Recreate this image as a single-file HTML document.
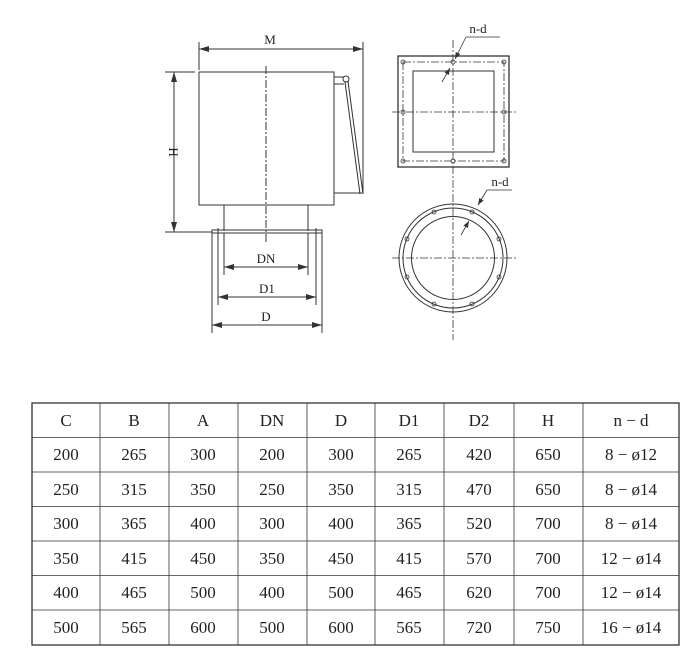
<!DOCTYPE html>
<html><head><meta charset="utf-8"><style>
html,body{margin:0;padding:0;background:#fff;}
svg{display:block;}
text{font-family:"Liberation Serif",serif;fill:#222;}
</style></head><body>
<svg width="700" height="669" viewBox="0 0 700 669" xmlns="http://www.w3.org/2000/svg">
<defs>
<marker id="a" viewBox="0 0 10 6" refX="10" refY="3" markerWidth="10" markerHeight="6" orient="auto-start-reverse" markerUnits="userSpaceOnUse"><path d="M0,0 L10,3 L0,6 z" fill="#333"/></marker>
<marker id="b" viewBox="0 0 8 6" refX="8" refY="3" markerWidth="7" markerHeight="5" orient="auto" markerUnits="userSpaceOnUse"><path d="M0,0 L8,3 L0,6 z" fill="#333"/></marker>
</defs>
<g stroke="#333" stroke-width="1" fill="none">
<rect x="199" y="72" width="135" height="133"/>
<line x1="224" y1="205" x2="224" y2="231"/>
<line x1="308" y1="205" x2="308" y2="231"/>
<rect x="212" y="230" width="110" height="3"/>
<circle cx="346" cy="79" r="3"/>
<line x1="334" y1="77" x2="344" y2="77"/>
<line x1="334" y1="84" x2="344" y2="84"/>
<line x1="345" y1="82" x2="360" y2="194"/>
<line x1="348" y1="81" x2="363" y2="194"/>
<line x1="334" y1="193" x2="362" y2="193"/>
<line x1="266" y1="66" x2="266" y2="242" stroke-dasharray="8,2,2,2"/>
<line x1="199" y1="42" x2="199" y2="70"/>
<line x1="363" y1="42" x2="363" y2="194"/>
<line x1="165" y1="72" x2="195" y2="72"/>
<line x1="165" y1="232" x2="212" y2="232"/>
<line x1="224" y1="233" x2="224" y2="275"/>
<line x1="308" y1="233" x2="308" y2="275"/>
<line x1="218" y1="228" x2="218" y2="305"/>
<line x1="316" y1="228" x2="316" y2="305"/>
<line x1="212" y1="233" x2="212" y2="333"/>
<line x1="322" y1="233" x2="322" y2="333"/>
<line x1="199" y1="49" x2="363" y2="49" marker-start="url(#a)" marker-end="url(#a)"/>
<line x1="174" y1="72" x2="174" y2="232" marker-start="url(#a)" marker-end="url(#a)"/>
<line x1="224" y1="267" x2="308" y2="267" marker-start="url(#a)" marker-end="url(#a)"/>
<line x1="218" y1="297" x2="316" y2="297" marker-start="url(#a)" marker-end="url(#a)"/>
<line x1="212" y1="325" x2="322" y2="325" marker-start="url(#a)" marker-end="url(#a)"/>
<rect x="398" y="56" width="111" height="111" stroke-width="1.3"/>
<rect x="413" y="71" width="81" height="81"/>
<rect x="403" y="62" width="101" height="99" stroke-dasharray="8,2,2,2" stroke-width="0.8"/>
<line x1="392" y1="112" x2="516" y2="112" stroke-dasharray="8,2,2,2" stroke-width="0.8"/>
<line x1="453" y1="40" x2="453" y2="340" stroke-dasharray="8,2,2,2" stroke-width="0.8"/>
<g stroke-width="0.8">
<circle cx="403" cy="62" r="2"/><circle cx="453" cy="62" r="2"/><circle cx="504" cy="62" r="2"/>
<circle cx="403" cy="112" r="2"/><circle cx="504" cy="112" r="2"/>
<circle cx="403" cy="161" r="2"/><circle cx="453" cy="161" r="2"/><circle cx="504" cy="161" r="2"/>
</g>
<polyline points="466,37 500,37" stroke-width="0.8"/>
<line x1="466" y1="37" x2="455" y2="59" stroke-width="0.8" marker-end="url(#b)"/>
<line x1="442" y1="82" x2="450" y2="68" stroke-width="0.8" marker-end="url(#b)"/>
<circle cx="453" cy="258" r="54"/>
<circle cx="453" cy="258" r="50"/>
<circle cx="453" cy="258" r="41.5"/>
<line x1="392" y1="258" x2="516" y2="258" stroke-dasharray="8,2,2,2" stroke-width="0.8"/>
<g stroke-width="0.8">
<circle cx="472" cy="212" r="2"/><circle cx="499" cy="239" r="2"/><circle cx="499" cy="277" r="2"/><circle cx="472" cy="304" r="2"/>
<circle cx="434" cy="304" r="2"/><circle cx="407" cy="277" r="2"/><circle cx="407" cy="239" r="2"/><circle cx="434" cy="212" r="2"/>
</g>
<polyline points="487,190 512,190" stroke-width="0.8"/>
<line x1="487" y1="190" x2="478" y2="205" stroke-width="0.8" marker-end="url(#b)"/>
<line x1="461" y1="235" x2="469" y2="221" stroke-width="0.8" marker-end="url(#b)"/>
<rect x="32" y="403" width="647" height="242" stroke-width="1.3"/>
<g stroke-width="0.8">
<line x1="32" y1="437.5" x2="679" y2="437.5"/><line x1="32" y1="472" x2="679" y2="472"/>
<line x1="32" y1="506.5" x2="679" y2="506.5"/><line x1="32" y1="541" x2="679" y2="541"/>
<line x1="32" y1="575.5" x2="679" y2="575.5"/><line x1="32" y1="610" x2="679" y2="610"/>
<line x1="100" y1="403" x2="100" y2="645"/><line x1="169" y1="403" x2="169" y2="645"/>
<line x1="238" y1="403" x2="238" y2="645"/><line x1="307" y1="403" x2="307" y2="645"/>
<line x1="375" y1="403" x2="375" y2="645"/><line x1="444" y1="403" x2="444" y2="645"/>
<line x1="514" y1="403" x2="514" y2="645"/><line x1="583" y1="403" x2="583" y2="645"/>
</g>
</g>
<g font-size="13" text-anchor="middle">
<text x="270" y="44">M</text>
<text x="266" y="263">DN</text>
<text x="267" y="293">D1</text>
<text x="266" y="321">D</text>
<text x="478" y="33">n-d</text>
<text x="500" y="186">n-d</text>
<text transform="translate(169,152) rotate(90)">H</text>
</g>
<g font-size="17" text-anchor="middle">
<g transform="translate(0,426)"><text x="66">C</text><text x="134">B</text><text x="203">A</text><text x="272">DN</text><text x="341">D</text><text x="409">D1</text><text x="479">D2</text><text x="548">H</text><text x="631">n − d</text></g>
<g transform="translate(0,460)"><text x="66">200</text><text x="134">265</text><text x="203">300</text><text x="272">200</text><text x="341">300</text><text x="409">265</text><text x="479">420</text><text x="548">650</text><text x="631">8 − ø12</text></g>
<g transform="translate(0,495)"><text x="66">250</text><text x="134">315</text><text x="203">350</text><text x="272">250</text><text x="341">350</text><text x="409">315</text><text x="479">470</text><text x="548">650</text><text x="631">8 − ø14</text></g>
<g transform="translate(0,529)"><text x="66">300</text><text x="134">365</text><text x="203">400</text><text x="272">300</text><text x="341">400</text><text x="409">365</text><text x="479">520</text><text x="548">700</text><text x="631">8 − ø14</text></g>
<g transform="translate(0,564)"><text x="66">350</text><text x="134">415</text><text x="203">450</text><text x="272">350</text><text x="341">450</text><text x="409">415</text><text x="479">570</text><text x="548">700</text><text x="631">12 − ø14</text></g>
<g transform="translate(0,598)"><text x="66">400</text><text x="134">465</text><text x="203">500</text><text x="272">400</text><text x="341">500</text><text x="409">465</text><text x="479">620</text><text x="548">700</text><text x="631">12 − ø14</text></g>
<g transform="translate(0,633)"><text x="66">500</text><text x="134">565</text><text x="203">600</text><text x="272">500</text><text x="341">600</text><text x="409">565</text><text x="479">720</text><text x="548">750</text><text x="631">16 − ø14</text></g>
</g>
</svg>
</body></html>
